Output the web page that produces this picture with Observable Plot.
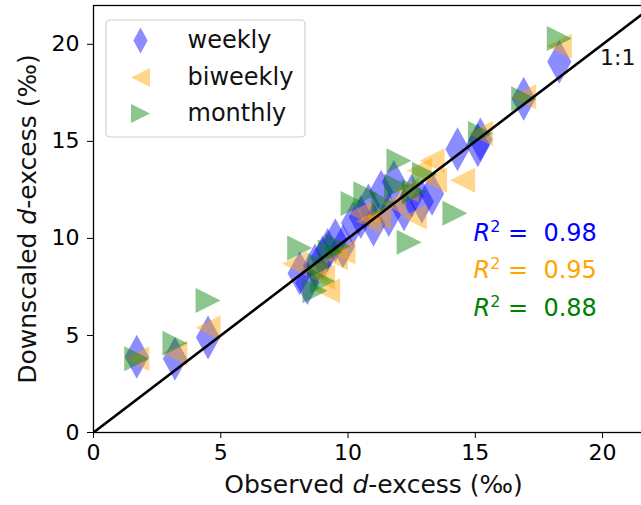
<!DOCTYPE html>
<html>
<head>
<meta charset="utf-8">
<script src="https://cdn.jsdelivr.net/npm/d3@7"></script>
<script src="https://cdn.jsdelivr.net/npm/@observablehq/plot@0.6"></script>
<style>
  html, body { margin: 0; padding: 0; background: #fff; overflow: hidden; }
  #wrap { width: 641px; height: 505px; overflow: hidden; position: relative; }
  #wrap svg { max-width: none !important; }
</style>
</head>
<body>
<div id="wrap"></div>
<script>
// ---- data ----
const weeklyX = [1.7, 3.2, 4.5, 8.1, 8.4, 8.7, 9.0, 9.2, 9.5, 9.8, 10.2, 10.5, 10.8, 11.0, 11.3, 11.6, 11.8, 12.2, 12.5, 12.9, 13.3, 14.3, 15.1, 15.2, 16.9, 18.3];
const weeklyY = [3.9, 3.8, 4.9, 8.2, 7.7, 8.6, 9.0, 9.4, 9.9, 9.6, 10.8, 11.1, 11.7, 10.7, 12.4, 11.2, 12.9, 11.5, 12.2, 11.9, 12.3, 14.6, 14.8, 15.1, 17.2, 19.1];
const biweeklyX = [1.7, 3.2, 4.5, 7.9, 8.7, 9.0, 9.2, 9.5, 9.8, 10.5, 10.8, 11.2, 11.8, 12.3, 12.6, 12.8, 13.3, 13.4, 14.5, 15.2, 16.9, 18.3];
const biweeklyY = [3.8, 4.1, 5.4, 8.7, 8.4, 8.0, 7.3, 9.0, 9.3, 11.3, 10.9, 11.1, 11.8, 12.5, 11.1, 13.5, 14.0, 13.0, 13.0, 15.4, 17.3, 19.9];
const monthlyX = [1.7, 3.2, 4.5, 8.1, 8.7, 8.9, 9.0, 9.3, 9.6, 10.2, 10.7, 11.4, 11.9, 12.0, 12.4, 12.6, 13.0, 14.2, 15.2, 16.9, 18.3];
const monthlyY = [3.8, 4.6, 6.8, 9.5, 7.3, 8.6, 7.8, 9.3, 9.6, 11.8, 12.3, 11.8, 12.7, 14.0, 9.8, 12.4, 13.3, 11.3, 15.4, 17.2, 20.3];
const seriesNames = ["weekly", "biweekly", "monthly"];
const r2Values = ["0.98", "0.95", "0.88"];
const xTicks = [0, 5, 10, 15, 20];
const yTicks = [0, 5, 10, 15, 20];
const axisMax = 22;

// ---- styles ----
const colors = ["blue", "orange", "green"];
const FONT = "DejaVu Sans";

const thinDiamond = {draw(ctx, size) {
  const r = Math.sqrt(size / Math.PI);
  ctx.moveTo(0, -r); ctx.lineTo(0.55 * r, 0); ctx.lineTo(0, r); ctx.lineTo(-0.55 * r, 0); ctx.closePath();
}};
const triLeft = {draw(ctx, size) {
  const r = Math.sqrt(size / Math.PI);
  ctx.moveTo(-r, 0); ctx.lineTo(r, -r); ctx.lineTo(r, r); ctx.closePath();
}};
const triRight = {draw(ctx, size) {
  const r = Math.sqrt(size / Math.PI);
  ctx.moveTo(r, 0); ctx.lineTo(-r, -r); ctx.lineTo(-r, r); ctx.closePath();
}};
const symbols = [thinDiamond, triLeft, triRight];
const sizes = [22, 12.5, 12.5];
const legendSizes = [13, 9.5, 9.5];

const toRows = (xs, ys) => xs.map((x, i) => ({x, y: ys[i]}));
const seriesData = [toRows(weeklyX, weeklyY), toRows(biweeklyX, biweeklyY), toRows(monthlyX, monthlyY)];
const oneToOne = [0, axisMax];

const dotMarks = seriesData.map((data, i) => Plot.dot(data, {
  x: "x", y: "y", symbol: symbols[i], r: sizes[i],
  fill: colors[i], fillOpacity: 0.45, stroke: "none"
}));

const legendRowDy = [35, 72, 108];
const legendMarks = [];
seriesNames.forEach((name, i) => {
  legendMarks.push(Plot.dot([name], {
    frameAnchor: "top-left", dx: 47, dy: legendRowDy[i], symbol: symbols[i], r: legendSizes[i],
    fill: colors[i], fillOpacity: 0.45, stroke: "none"
  }));
  legendMarks.push(Plot.text([name], {
    frameAnchor: "top-left", dx: 94, dy: legendRowDy[i], text: d => d, textAnchor: "start", lineAnchor: "middle",
    fontSize: 24, fill: "#111"
  }));
});

const r2Dy = [14, 51, 89];
const r2Marks = r2Values.map((v, i) => Plot.text([v], {
  frameAnchor: "left", dx: 380, dy: r2Dy[i], text: d => "R2=" + d, textAnchor: "start", lineAnchor: "middle",
  fontSize: 24, fill: colors[i]
}));

const chart = Plot.plot({
  width: 653, height: 505,
  marginLeft: 93, marginRight: 0, marginTop: 5, marginBottom: 73,
  style: {fontFamily: FONT, fontSize: "22px", color: "black", background: "white", overflow: "visible"},
  x: {domain: [0, axisMax], ticks: xTicks, tickSize: 6, tickPadding: 6, label: null},
  y: {domain: [0, axisMax], ticks: yTicks, tickSize: 6, tickPadding: 8, label: null},
  marks: [
    ...dotMarks,
    Plot.line(oneToOne, {x: d => d, y: d => d, stroke: "black", strokeWidth: 2.6, clip: true}),
    Plot.frame({stroke: "black", strokeWidth: 1.3}),
    Plot.text(["1:1"], {frameAnchor: "top-right", dx: -18, dy: 52, text: d => d, textAnchor: "end", lineAnchor: "middle", fontSize: 22, fill: "#111"}),
    ...r2Marks,
    ...legendMarks,
    Plot.text(["Observed d-excess (‰)"], {frameAnchor: "bottom", dy: 52, text: d => d, textAnchor: "middle", lineAnchor: "middle", fontSize: 25, fill: "#111"}),
    Plot.text(["Downscaled d-excess (‰)"], {frameAnchor: "left", dx: -66, rotate: -90, text: d => d, textAnchor: "middle", lineAnchor: "middle", fontSize: 25, fill: "#111"})
  ]
});
chart.style.maxWidth = "none";
chart.style.height = "505px";

document.getElementById("wrap").appendChild(chart);

// legend box outline (no data lies beneath it)
const box = document.createElementNS("http://www.w3.org/2000/svg", "rect");
box.setAttribute("x", 106); box.setAttribute("y", 20);
box.setAttribute("width", 199); box.setAttribute("height", 117);
box.setAttribute("rx", 4); box.setAttribute("fill", "none");
box.setAttribute("stroke", "#d0d0d0"); box.setAttribute("stroke-width", 1.2);
chart.appendChild(box);

// italics and superscripts
chart.querySelectorAll("text").forEach(t => {
  const s = t.textContent;
  if (s.includes("d-excess")) {
    const [a, b] = s.split("d-excess");
    t.innerHTML = `${a}<tspan font-style="italic">d</tspan>-excess${b}`;
  } else if (s.startsWith("R2=")) {
    const v = s.slice(3);
    t.innerHTML = `<tspan font-style="italic">R</tspan><tspan dy="-9" font-size="16">2</tspan><tspan dy="9" xml:space="preserve"> = </tspan><tspan xml:space="preserve"> ${v}</tspan>`;
  }
});
</script>
</body>
</html>
